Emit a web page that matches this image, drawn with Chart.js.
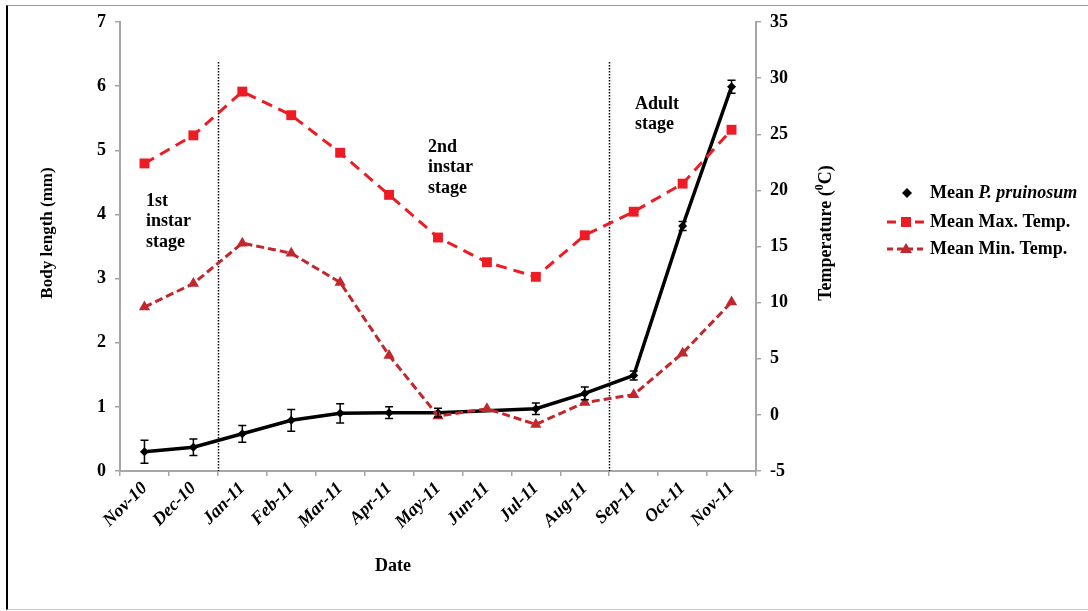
<!DOCTYPE html>
<html><head><meta charset="utf-8">
<script src="https://cdn.jsdelivr.net/npm/chart.js@4"></script>
<style>
html,body{margin:0;padding:0;background:#fff;}
#wrap{position:relative;width:1088px;height:611px;overflow:hidden;}
#frame{position:absolute;left:6px;top:5px;width:1100px;height:603px;border-left:2px solid #000;border-top:1px solid #9a9a9a;border-bottom:1px solid #c8c8c8;pointer-events:none;}
canvas{position:absolute;left:0;top:0;}
</style></head><body>
<div id="wrap"><canvas id="c" width="1088" height="611"></canvas><div id="frame"></div></div>
<script>
const categories = ['Nov-10','Dec-10','Jan-11','Feb-11','Mar-11','Apr-11','May-11','Jun-11','Jul-11','Aug-11','Sep-11','Oct-11','Nov-11'];
const bodyLength = [0.30,0.37,0.58,0.79,0.90,0.91,0.91,null,0.97,1.21,1.49,3.82,5.99];
const bodyLengthErr = [0.18,0.13,0.13,0.17,0.15,0.09,0.07,null,0.09,0.10,0.07,0.07,0.10];
const maxTemp = [22.4,24.9,28.8,26.7,23.35,19.6,15.8,13.6,12.3,16.0,18.1,20.6,25.4];
const minTemp = [9.6,11.7,15.3,14.4,11.8,5.3,-0.1,0.55,-0.85,1.1,1.8,5.5,10.05];
const leftAxis = {min:0, max:7, step:1};
const rightAxis = {min:-5, max:35, step:5};
const leftTitle = 'Body length (mm)';
const rightTitle = ['Temperature (', '0', 'C)'];
const xTitle = 'Date';
const seriesNames = ['Mean ', 'P. pruinosum', 'Mean Max. Temp.', 'Mean Min. Temp.'];
const stageBoundaries = [1.5, 9.5];
const stageLabels = [['1st','instar','stage'], ['2nd','instar','stage'], ['Adult','stage']];

const FAM = '"Liberation Serif","Times New Roman",serif';
const C_BLACK = '#000000', C_MAX = '#ed1c24', C_MIN = '#c1272d', C_AXIS = '#a6a6a6';
const f = (size, style) => ({family: FAM, size: size, weight: 'bold', style: style || 'normal'});
const FS = 18;

const decor = {
  id: 'decor',
  beforeDatasetsDraw(chart) {
    const ctx = chart.ctx, xs = chart.scales.x, ca = chart.chartArea;
    ctx.save();
    ctx.strokeStyle = '#000'; ctx.lineWidth = 1.5; ctx.setLineDash([1.5, 1.5]);
    stageBoundaries.forEach(b => {
      const x = Math.round(xs.getPixelForValue(b)) + 0.5;
      ctx.beginPath(); ctx.moveTo(x, 62); ctx.lineTo(x, ca.bottom); ctx.stroke();
    });
    ctx.restore();
  },
  afterDatasetsDraw(chart) {
    const ctx = chart.ctx, xs = chart.scales.x, ys = chart.scales.y;
    const B = 'bold ' + FS + 'px ' + FAM;
    ctx.save();
    // error bars
    ctx.strokeStyle = '#000'; ctx.lineWidth = 1.5; ctx.setLineDash([]);
    bodyLength.forEach((v, i) => {
      const e = bodyLengthErr[i];
      if (v === null || e === null) return;
      const x = xs.getPixelForValue(i);
      const t = ys.getPixelForValue(v + e), b = ys.getPixelForValue(v - e);
      ctx.beginPath();
      ctx.moveTo(x, t); ctx.lineTo(x, b);
      ctx.moveTo(x - 4, t); ctx.lineTo(x + 4, t);
      ctx.moveTo(x - 4, b); ctx.lineTo(x + 4, b);
      ctx.stroke();
    });
    // stage labels
    ctx.fillStyle = '#000'; ctx.font = B; ctx.textAlign = 'left'; ctx.textBaseline = 'middle';
    const pos = [[146, 201], [428, 147], [635, 104]];
    stageLabels.forEach((lines, k) => {
      lines.forEach((s, j) => ctx.fillText(s, pos[k][0], pos[k][1] + j * 20.5));
    });
    // x title
    ctx.textAlign = 'center';
    ctx.fillText(xTitle, 393, 566);
    // left title, rotated
    ctx.save();
    ctx.translate(48, 233); ctx.rotate(-Math.PI / 2);
    ctx.font = 'bold 17px ' + FAM; ctx.textAlign = 'center';
    ctx.fillText(leftTitle, 0, 0);
    ctx.restore();
    // right title, rotated
    ctx.save();
    ctx.translate(826, 233); ctx.rotate(-Math.PI / 2);
    ctx.font = B;
    const w1 = ctx.measureText(rightTitle[0]).width, w3 = ctx.measureText(rightTitle[2]).width;
    ctx.font = 'bold 12px ' + FAM;
    const w2 = ctx.measureText(rightTitle[1]).width;
    let x0 = -(w1 + w2 + w3) / 2;
    ctx.textAlign = 'left';
    ctx.font = B; ctx.fillText(rightTitle[0], x0, 0); x0 += w1;
    ctx.font = 'bold 12px ' + FAM; ctx.fillText(rightTitle[1], x0, -6); x0 += w2;
    ctx.font = B; ctx.fillText(rightTitle[2], x0, 0);
    ctx.restore();
    // legend
    const rows = [193, 222, 249], tx = 930;
    ctx.textAlign = 'left'; ctx.textBaseline = 'middle';
    ctx.fillStyle = C_BLACK;
    ctx.beginPath(); ctx.moveTo(907, rows[0] - 5); ctx.lineTo(912, rows[0]); ctx.lineTo(907, rows[0] + 5); ctx.lineTo(902, rows[0]); ctx.closePath(); ctx.fill();
    ctx.font = B; ctx.fillText(seriesNames[0], tx, rows[0]);
    const wm = ctx.measureText(seriesNames[0]).width;
    ctx.font = 'italic bold ' + FS + 'px ' + FAM; ctx.fillText(seriesNames[1], tx + wm, rows[0]);
    ctx.strokeStyle = C_MAX; ctx.lineWidth = 3; ctx.setLineDash([9, 5]);
    ctx.beginPath(); ctx.moveTo(887, rows[1]); ctx.lineTo(925, rows[1]); ctx.stroke();
    ctx.setLineDash([]); ctx.fillStyle = C_MAX; ctx.fillRect(901, rows[1] - 5, 10, 10);
    ctx.fillStyle = '#000'; ctx.font = B; ctx.fillText(seriesNames[2], tx, rows[1]);
    ctx.strokeStyle = C_MIN; ctx.lineWidth = 3; ctx.setLineDash([6, 4]);
    ctx.beginPath(); ctx.moveTo(887, rows[2]); ctx.lineTo(927, rows[2]); ctx.stroke();
    ctx.setLineDash([]); ctx.fillStyle = C_MIN;
    ctx.beginPath(); ctx.moveTo(906, rows[2] - 6); ctx.lineTo(912, rows[2] + 4); ctx.lineTo(900, rows[2] + 4); ctx.closePath(); ctx.fill();
    ctx.fillStyle = '#000'; ctx.fillText(seriesNames[3], tx, rows[2]);
    ctx.restore();
  }
};

new Chart(document.getElementById('c').getContext('2d'), {
  type: 'line',
  data: {
    labels: categories,
    datasets: [
      {label: seriesNames[0] + seriesNames[1], data: bodyLength, yAxisID: 'y', borderColor: C_BLACK, backgroundColor: C_BLACK,
       borderWidth: 3.5, pointStyle: 'rectRot', pointRadius: 4.5, pointBorderWidth: 0, spanGaps: true, order: 3},
      {label: seriesNames[2], data: maxTemp, yAxisID: 'y1', borderColor: C_MAX, backgroundColor: C_MAX,
       borderWidth: 3, borderDash: [11, 7], pointStyle: 'rect', pointRadius: 7, pointBorderWidth: 0, order: 2},
      {label: seriesNames[3], data: minTemp, yAxisID: 'y1', borderColor: C_MIN, backgroundColor: C_MIN,
       borderWidth: 3, borderDash: [8, 4], pointStyle: 'triangle', pointRadius: 6.5, pointBorderWidth: 0, order: 1}
    ]
  },
  options: {
    responsive: false, animation: false,
    layout: {padding: {top: 22, left: 0, right: 0, bottom: 0}},
    plugins: {legend: {display: false}, tooltip: {enabled: false}},
    scales: {
      x: {
        offset: true,
        grid: {offset: true, drawOnChartArea: false, color: C_AXIS, tickLength: 5, lineWidth: 1.5},
        border: {color: C_AXIS, width: 2},
        ticks: {autoSkip: false, maxRotation: 45, minRotation: 45, font: f(18, 'italic'), color: '#000', padding: 2},
        afterFit(s) { s.height = 140; }
      },
      y: {
        position: 'left', min: leftAxis.min, max: leftAxis.max,
        ticks: {stepSize: leftAxis.step, font: f(FS), color: '#000', padding: 9},
        grid: {drawOnChartArea: false, color: C_AXIS, tickLength: 5, lineWidth: 1.5},
        border: {color: C_AXIS, width: 2},
        afterFit(s) { s.width = 120; }
      },
      y1: {
        position: 'right', min: rightAxis.min, max: rightAxis.max,
        ticks: {stepSize: rightAxis.step, font: f(FS), color: '#000', padding: 9},
        grid: {drawOnChartArea: false, color: C_AXIS, tickLength: 5, lineWidth: 1.5},
        border: {color: C_AXIS, width: 2},
        afterFit(s) { s.width = 332; }
      }
    }
  },
  plugins: [decor]
});
</script>
</body></html>
